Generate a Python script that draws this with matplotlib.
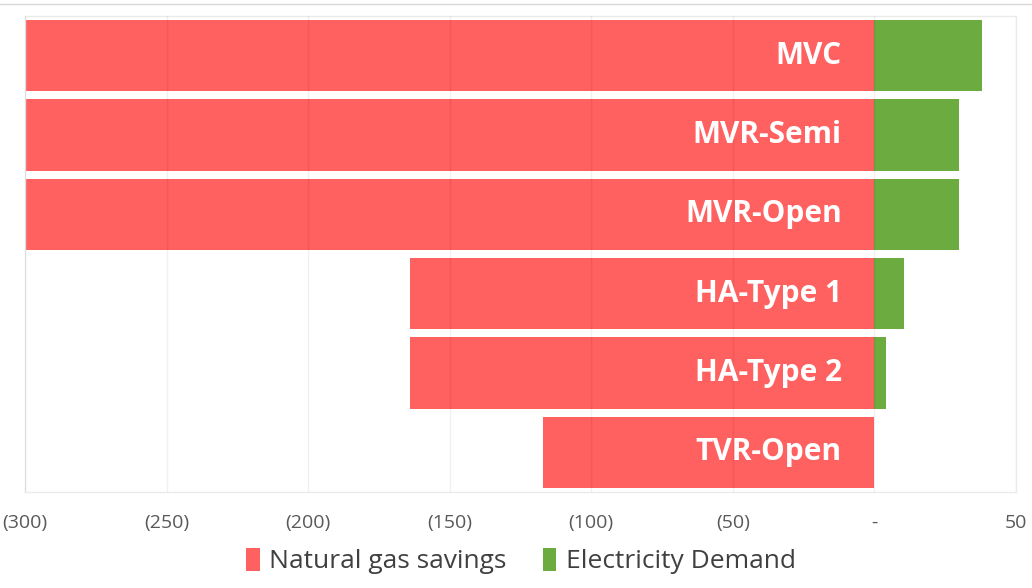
import matplotlib
matplotlib.use("Agg")
import matplotlib.pyplot as plt
from matplotlib.ticker import FuncFormatter, MultipleLocator
from matplotlib.patches import Patch
from matplotlib.lines import Line2D

plt.rcParams['font.family'] = ['Open Sans', 'DejaVu Sans']

categories = ["MVC", "MVR-Semi", "MVR-Open", "HA-Type 1", "HA-Type 2", "TVR-Open"]
gas_savings = [-300, -300, -300, -164, -164, -117]
electricity = [38, 30, 30, 10.5, 4, 0]
series_names = ["Natural gas savings", "Electricity Demand"]

RED = "#FF6060"
GREEN = "#6CAB3F"

fig = plt.figure(figsize=(10.32, 5.88), dpi=100)
ax = fig.add_axes([25/1032, 1 - 492/588, (1016 - 25)/1032, (492 - 16)/588])

y = list(range(len(categories)))
ax.barh(y, gas_savings, height=0.9, color=RED, zorder=2)
ax.barh(y, electricity, height=0.9, color=GREEN, zorder=2)

for yi, name in zip(y, categories):
    ax.text(-11.5, yi, name, ha="right", va="center", color="white",
            fontsize=21.5, fontweight="bold", zorder=4)

ax.set_xlim(-300, 50)
ax.set_ylim(len(categories) - 0.5, -0.5)
ax.xaxis.set_major_locator(MultipleLocator(50))

def fmt(v, pos):
    v = int(round(v))
    if v < 0:
        return f"({-v})"
    if v == 0:
        return "-"
    return str(v)

ax.xaxis.set_major_formatter(FuncFormatter(fmt))
ax.set_yticks([])
ax.tick_params(axis="x", length=0, pad=16, labelsize=14, labelcolor="#595959")
ax.grid(axis="x", color="black", alpha=0.06, linewidth=1, zorder=3)
ax.set_axisbelow(False)
for s in ax.spines.values():
    s.set_color("#EBEBEB")
    s.set_linewidth(1)

handles = [Patch(facecolor=RED, edgecolor="none"), Patch(facecolor=GREEN, edgecolor="none")]
fig.legend(handles, series_names, loc="center", bbox_to_anchor=(521/1032, 1 - 561/588),
           ncol=2, frameon=False, fontsize=19, handlelength=0.5, handleheight=1.0,
           handletextpad=0.35, columnspacing=1.4, labelcolor="#404040")

fig.add_artist(Line2D([0, 1], [1 - 4/588, 1 - 4/588], color="#D9D9D9", linewidth=1))

fig.savefig("out.png", dpi=100)
